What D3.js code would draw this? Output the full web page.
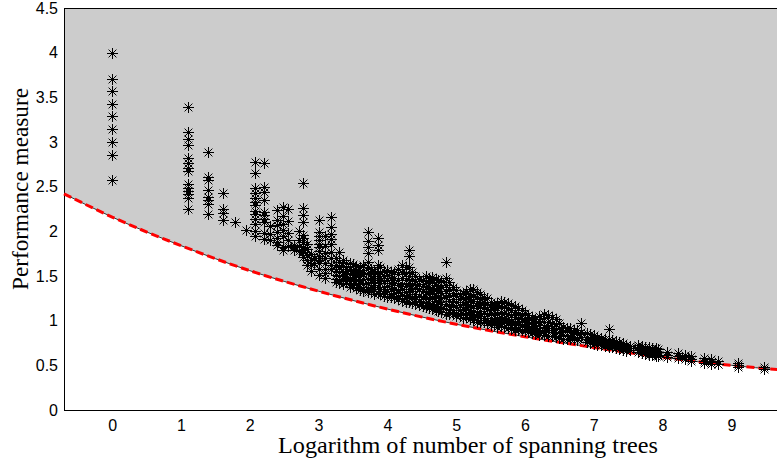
<!DOCTYPE html>
<html>
<head>
<meta charset="utf-8">
<script src="https://cdn.jsdelivr.net/npm/d3@7"></script>
<style>
  body { margin: 0; background: #fff; }
</style>
</head>
<body>
<div id="grafico"></div>
<script>
const WIDTH = 777;
const HEIGHT = 458;

// tick labels
const xTicks = [0, 1, 2, 3, 4, 5, 6, 7, 8, 9];
const yTicks = [0, 0.5, 1, 1.5, 2, 2.5, 3, 3.5, 4, 4.5];
const yTickLabels = ["0", "0.5", "1", "1.5", "2", "2.5", "3", "3.5", "4", "4.5"];

// lower bound curve
const boundX = [-0.7, 0, 1, 2, 3, 4, 5, 6, 7, 8, 9, 9.7];
const boundY = [2.42, 2.16, 1.84, 1.56, 1.33, 1.13, 0.96, 0.82, 0.70, 0.59, 0.50, 0.45];

// scatter points, grouped in columns: one x, several y
const pointX = [
    0, 1.10, 1.39, 1.61, 1.79, 1.95, 2.08, 2.20, 2.40, 2.48,
    2.64, 2.77, 2.94, 3.00, 3.18, 3.30, 3.40, 3.50, 3.60, 3.72,
    3.80, 3.86, 3.95, 4.05, 4.15, 4.22, 4.31, 4.40, 4.52, 4.60,
    4.70, 4.78, 4.85, 4.95, 5.05, 5.15, 5.25, 5.35, 5.45, 5.55,
    5.65, 5.75, 5.85, 5.95, 6.05, 6.15, 6.27, 6.34, 6.45, 6.56,
    6.66, 6.76, 6.81, 6.90, 7.00, 7.10, 7.22, 7.32, 7.42, 7.52,
    7.65, 7.75, 7.85, 7.94, 8.07, 8.22, 8.32, 8.42, 8.60, 8.70,
    8.80, 9.10, 9.47,
    2.30, 2.56, 2.71, 2.83, 2.89, 3.09,
    3.25, 3.35, 3.45, 3.55, 3.65, 3.76, 3.90, 4.00, 4.10, 4.27,
    4.36, 4.46, 4.56, 4.65, 4.74, 4.90, 5.00, 5.10, 5.20, 5.30,
    5.40, 5.50, 5.60, 5.70, 5.80, 5.90, 6.00, 6.10, 6.21, 6.40,
    6.50, 6.61, 6.71, 6.95, 7.05, 7.16, 7.27, 7.37, 7.47, 7.70,
    7.80, 7.90
];
const pointY = [
    [4.00, 3.70, 3.57, 3.43, 3.29, 3.15, 3.00, 2.86, 2.57],
    [3.39, 3.11, 3.03, 2.97, 2.82, 2.76, 2.71, 2.67, 2.53, 2.49, 2.45, 2.42, 2.37, 2.25],
    [2.89, 2.61, 2.57, 2.46, 2.38, 2.35, 2.31, 2.19],
    [2.43, 2.25, 2.21, 2.13],
    [2.11],
    [2.01],
    [2.78, 2.65, 2.48, 2.43, 2.37, 2.33, 2.30, 2.23, 2.19, 2.14, 2.08, 2.00, 1.95],
    [2.76, 2.50, 2.44, 2.35, 2.22, 2.18, 2.14, 2.11, 1.98, 1.91],
    [2.24, 2.13, 2.07, 1.99, 1.93, 1.88, 1.85],
    [2.27, 2.17, 2.08, 2.01, 1.95, 1.83, 1.79],
    [1.85, 1.82, 1.79],
    [2.54, 2.26, 2.18, 2.11, 1.96, 1.92, 1.88, 1.83, 1.79, 1.77, 1.71],
    [1.70, 1.64],
    [2.13, 1.99, 1.95, 1.90, 1.86, 1.82, 1.78, 1.72, 1.68, 1.64, 1.58, 1.51],
    [2.16, 2.05, 1.97, 1.91, 1.86, 1.77, 1.70, 1.62, 1.58],
    [1.77, 1.66, 1.60, 1.55, 1.50, 1.46, 1.42],
    [1.65, 1.60, 1.56, 1.52, 1.48, 1.44],
    [1.63, 1.57, 1.53, 1.49, 1.45, 1.40],
    [1.60, 1.55, 1.50, 1.46, 1.42, 1.38, 1.34],
    [1.99, 1.89, 1.83, 1.76, 1.66, 1.60, 1.53, 1.47, 1.42, 1.36, 1.32],
    [1.56, 1.50, 1.45, 1.40, 1.35, 1.30],
    [1.92, 1.85, 1.79, 1.62, 1.52, 1.45, 1.38, 1.31],
    [1.56, 1.50, 1.44, 1.38, 1.33, 1.28],
    [1.55, 1.48, 1.42, 1.36, 1.30, 1.26],
    [1.58, 1.52, 1.46, 1.40, 1.34, 1.28, 1.24],
    [1.62, 1.55, 1.48, 1.41, 1.35, 1.29, 1.22],
    [1.79, 1.72, 1.60, 1.50, 1.42, 1.35, 1.28, 1.21],
    [1.50, 1.44, 1.37, 1.30, 1.24, 1.19],
    [1.45, 1.39, 1.33, 1.27, 1.21, 1.16],
    [1.48, 1.42, 1.36, 1.30, 1.24, 1.18, 1.14],
    [1.47, 1.40, 1.34, 1.28, 1.22, 1.16, 1.12],
    [1.44, 1.38, 1.31, 1.25, 1.19, 1.14, 1.10],
    [1.66, 1.48, 1.40, 1.33, 1.26, 1.19, 1.13, 1.08],
    [1.38, 1.31, 1.24, 1.18, 1.12, 1.07],
    [1.30, 1.24, 1.18, 1.12, 1.06],
    [1.33, 1.27, 1.21, 1.15, 1.09, 1.04],
    [1.35, 1.28, 1.22, 1.16, 1.10, 1.04, 1.01],
    [1.30, 1.24, 1.17, 1.11, 1.05, 0.99],
    [1.25, 1.19, 1.13, 1.07, 1.01, 0.97],
    [1.18, 1.12, 1.06, 1.00, 0.96],
    [1.22, 1.16, 1.10, 1.04, 0.99, 0.94],
    [1.20, 1.14, 1.08, 1.02, 0.97, 0.92],
    [1.16, 1.10, 1.04, 0.98, 0.93, 0.90],
    [1.12, 1.06, 1.00, 0.95, 0.89],
    [1.06, 1.01, 0.96, 0.91, 0.87],
    [1.02, 0.97, 0.92, 0.88, 0.85],
    [1.08, 1.03, 0.98, 0.93, 0.88, 0.84],
    [1.06, 0.99, 0.94, 0.89, 0.83],
    [1.02, 0.96, 0.91, 0.86, 0.82],
    [0.93, 0.88, 0.84, 0.80],
    [0.92, 0.87, 0.83, 0.79],
    [0.89, 0.85, 0.81, 0.78],
    [0.97, 0.87, 0.82],
    [0.86, 0.82, 0.79, 0.76],
    [0.84, 0.80, 0.77, 0.74],
    [0.81, 0.78, 0.75, 0.73],
    [0.91, 0.79, 0.76, 0.73, 0.71],
    [0.77, 0.74, 0.71, 0.69],
    [0.75, 0.72, 0.69, 0.67],
    [0.72, 0.69, 0.67],
    [0.73, 0.70, 0.67, 0.65],
    [0.71, 0.68, 0.65, 0.63],
    [0.69, 0.66, 0.63, 0.62],
    [0.68, 0.65, 0.62, 0.61],
    [0.65, 0.62, 0.59],
    [0.64, 0.61, 0.58],
    [0.62, 0.59, 0.57],
    [0.60, 0.57, 0.55],
    [0.58, 0.55, 0.53],
    [0.57, 0.54, 0.52],
    [0.55, 0.52, 0.51],
    [0.53, 0.50, 0.48],
    [0.48, 0.46],
    [2.06, 1.97, 1.90],
    [2.25, 2.12, 1.98, 1.90, 1.84],
    [2.00, 1.90, 1.84, 1.78],
    [1.86, 1.80, 1.74, 1.68, 1.62],
    [1.75, 1.68, 1.62, 1.56],
    [1.95, 1.84, 1.76, 1.70, 1.64, 1.58, 1.53, 1.48],
    [1.70, 1.62, 1.56, 1.51, 1.47, 1.43],
    [1.68, 1.61, 1.55, 1.50, 1.45, 1.41],
    [1.64, 1.58, 1.52, 1.47, 1.42, 1.38],
    [1.61, 1.56, 1.51, 1.46, 1.41, 1.37],
    [1.62, 1.57, 1.52, 1.47, 1.41, 1.36, 1.33],
    [1.58, 1.53, 1.48, 1.43, 1.38, 1.33],
    [1.60, 1.54, 1.48, 1.42, 1.36, 1.30],
    [1.57, 1.51, 1.45, 1.39, 1.33, 1.27],
    [1.54, 1.48, 1.42, 1.36, 1.31, 1.25],
    [1.60, 1.53, 1.46, 1.39, 1.32, 1.25, 1.21],
    [1.54, 1.47, 1.40, 1.33, 1.26, 1.20],
    [1.47, 1.41, 1.35, 1.28, 1.22, 1.17],
    [1.50, 1.44, 1.38, 1.32, 1.26, 1.20, 1.15],
    [1.49, 1.43, 1.37, 1.31, 1.25, 1.19, 1.13],
    [1.45, 1.39, 1.33, 1.27, 1.21, 1.15, 1.11],
    [1.43, 1.36, 1.29, 1.22, 1.16, 1.10, 1.07],
    [1.34, 1.28, 1.21, 1.15, 1.09, 1.05],
    [1.31, 1.25, 1.19, 1.13, 1.07, 1.03],
    [1.36, 1.30, 1.24, 1.18, 1.12, 1.06, 1.02],
    [1.32, 1.26, 1.20, 1.14, 1.08, 1.01, 0.98],
    [1.27, 1.21, 1.15, 1.09, 1.03, 0.98],
    [1.21, 1.15, 1.09, 1.03, 0.98, 0.95],
    [1.20, 1.14, 1.08, 1.02, 0.97, 0.93],
    [1.21, 1.15, 1.09, 1.03, 0.98, 0.93],
    [1.18, 1.12, 1.06, 1.00, 0.95, 0.91],
    [1.14, 1.08, 1.02, 0.96, 0.91, 0.89],
    [1.09, 1.03, 0.98, 0.93, 0.88],
    [1.04, 0.99, 0.94, 0.90, 0.86],
    [1.05, 1.00, 0.95, 0.90, 0.86, 0.84],
    [1.04, 0.97, 0.92, 0.87, 0.83],
    [0.97, 0.92, 0.87, 0.83, 0.81],
    [0.92, 0.88, 0.84, 0.80],
    [0.90, 0.86, 0.82, 0.79],
    [0.85, 0.81, 0.78, 0.75],
    [0.82, 0.79, 0.76, 0.73],
    [0.80, 0.77, 0.74, 0.72],
    [0.78, 0.75, 0.72, 0.70],
    [0.76, 0.73, 0.70, 0.68],
    [0.73, 0.70, 0.68, 0.66],
    [0.72, 0.69, 0.66, 0.64],
    [0.70, 0.67, 0.64, 0.62],
    [0.69, 0.66, 0.63, 0.61]
];

let svg = d3.select("#grafico")
    .append("svg")
    .attr("width", WIDTH)
    .attr("height", HEIGHT);

let x = d3.scaleLinear()
    .domain([-0.7, 9.7])
    .range([64, 779.5]);

let y = d3.scaleLinear()
    .domain([0, 4.5])
    .range([410, 8]);

let bound = boundX.map((d, i) => ({x: d, y: boundY[i]}));

let points = [];
pointX.forEach((px, i) => {
    pointY[i].forEach((py) => {
        points.push({x: px, y: py});
    });
});

// grey region above the bound
let area = d3.area()
    .x(d => x(d.x))
    .y0(y(4.5))
    .y1(d => y(d.y))
    .curve(d3.curveMonotoneX);

svg.append("path")
    .datum(bound)
    .attr("d", area)
    .style("fill", "#cccccc");

// axes
svg.append("g")
    .attr("transform", "translate(0,410)")
    .call(d3.axisBottom(x).tickValues(xTicks).tickSize(0).tickPadding(10));

svg.append("g")
    .attr("transform", "translate(64,0)")
    .call(d3.axisLeft(y).tickValues(yTicks).tickSize(0).tickPadding(6)
        .tickFormat((d, i) => yTickLabels[i]));

svg.selectAll(".domain").remove();
svg.selectAll(".tick text")
    .style("font-family", "'Liberation Sans', Arial, sans-serif")
    .style("font-size", "16px")
    .style("fill", "#000");

// box lines
svg.append("line")
    .attr("x1", 64.5).attr("x2", 64.5)
    .attr("y1", 8).attr("y2", 410.5)
    .style("stroke", "#000").style("stroke-width", 1);
svg.append("line")
    .attr("x1", 64).attr("x2", WIDTH)
    .attr("y1", 410.5).attr("y2", 410.5)
    .style("stroke", "#000").style("stroke-width", 1);
svg.append("line")
    .attr("x1", 64).attr("x2", WIDTH)
    .attr("y1", 8.5).attr("y2", 8.5)
    .style("stroke", "#000").style("stroke-width", 1);

// bound line: thin dark line with red dashes on top
let line = d3.line()
    .x(d => x(d.x))
    .y(d => y(d.y))
    .curve(d3.curveMonotoneX);

svg.append("path")
    .datum(bound)
    .attr("d", line)
    .style("fill", "none")
    .style("stroke", "#333")
    .style("stroke-width", 1);

svg.append("path")
    .datum(bound)
    .attr("d", line)
    .style("fill", "none")
    .style("stroke", "#ff0000")
    .style("stroke-width", 3)
    .style("stroke-dasharray", "8,4");

// scatter markers (asterisk)
let r = 5.5;
let d2 = 3.9;
let star = "M" + (-r) + ",0H" + r + "M0," + (-r) + "V" + r +
    "M" + (-d2) + "," + (-d2) + "L" + d2 + "," + d2 +
    "M" + (-d2) + "," + d2 + "L" + d2 + "," + (-d2);

svg.selectAll(".point")
    .data(points)
    .enter()
    .append("path")
    .attr("class", "point")
    .attr("transform", d => "translate(" + (Math.round(x(d.x)) + 0.5) + "," + (Math.round(y(d.y)) + 0.5) + ")")
    .attr("d", star)
    .style("fill", "none")
    .style("stroke", "#000")
    .style("stroke-width", 1);

// axis titles
svg.append("text")
    .attr("x", 468)
    .attr("y", 453)
    .attr("text-anchor", "middle")
    .attr("textLength", 380)
    .attr("lengthAdjust", "spacingAndGlyphs")
    .style("font-family", "'Liberation Serif', 'DejaVu Serif', serif")
    .style("font-size", "23px")
    .style("fill", "#000")
    .text("Logarithm of number of spanning trees");

svg.append("text")
    .attr("transform", "translate(28,189) rotate(-90)")
    .attr("text-anchor", "middle")
    .attr("textLength", 202)
    .attr("lengthAdjust", "spacingAndGlyphs")
    .style("font-family", "'Liberation Serif', 'DejaVu Serif', serif")
    .style("font-size", "23px")
    .style("fill", "#000")
    .text("Performance measure");
</script>
</body>
</html>
